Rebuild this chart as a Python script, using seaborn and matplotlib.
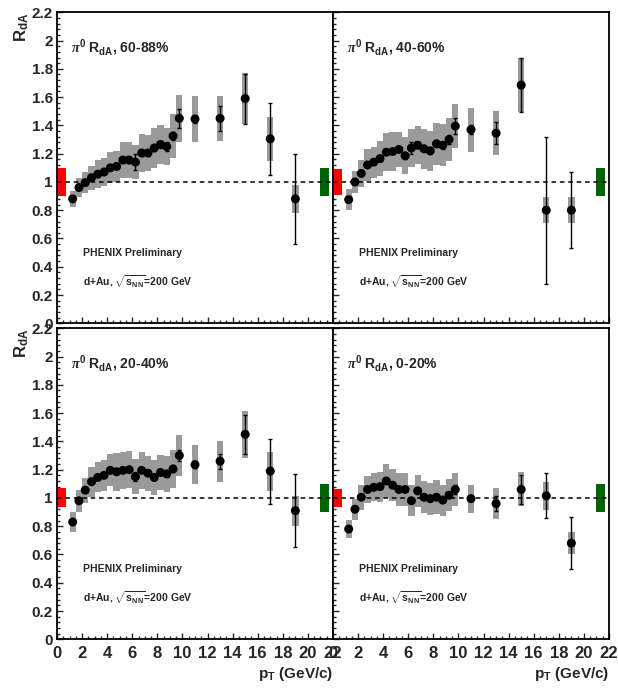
import numpy as np
import pandas as pd
import matplotlib
matplotlib.use("Agg")
import matplotlib.pyplot as plt
from matplotlib import font_manager
from matplotlib.ticker import MultipleLocator
import seaborn as sns

# ---------------- data ----------------
pt = [1.25, 1.75, 2.25, 2.75, 3.25, 3.75, 4.25, 4.75, 5.25, 5.75, 6.25, 6.75,
      7.25, 7.75, 8.25, 8.75, 9.25, 9.75, 11, 13, 15, 17, 19]

labels = ["60-88%", "40-60%", "20-40%", "0-20%"]

val_6088 = [0.88, 0.96, 0.995, 1.03, 1.055, 1.07, 1.10, 1.11, 1.155, 1.155, 1.14, 1.205,
            1.205, 1.24, 1.265, 1.25, 1.325, 1.45, 1.445, 1.45, 1.59, 1.305, 0.88]
stat_6088 = [0.01, 0.01, 0.01, 0.012, 0.012, 0.012, 0.015, 0.015, 0.02, 0.02, 0.055, 0.02,
             0.02, 0.02, 0.025, 0.03, 0.03, 0.067, 0.028, 0.09, 0.177, 0.253, 0.316]
sys_6088 = [0.055, 0.065, 0.075, 0.085, 0.10, 0.10, 0.11, 0.11, 0.125, 0.125, 0.12, 0.135,
            0.13, 0.14, 0.14, 0.13, 0.155, 0.165, 0.163, 0.16, 0.183, 0.155, 0.10]

val_4060 = [0.875, 1.0, 1.06, 1.12, 1.14, 1.165, 1.21, 1.215, 1.23, 1.185, 1.24, 1.26,
            1.235, 1.22, 1.27, 1.26, 1.30, 1.395, 1.37, 1.345, 1.685, 0.80, 0.80]
stat_4060 = [0.01, 0.01, 0.01, 0.012, 0.012, 0.012, 0.015, 0.015, 0.015, 0.02, 0.04, 0.02,
             0.02, 0.02, 0.02, 0.025, 0.035, 0.055, 0.03, 0.08, 0.19, 0.52, 0.27]
sys_4060 = [0.074, 0.08, 0.097, 0.11, 0.11, 0.124, 0.135, 0.135, 0.124, 0.13, 0.136, 0.136,
            0.14, 0.14, 0.15, 0.15, 0.15, 0.157, 0.156, 0.156, 0.19, 0.09, 0.09]

val_2040 = [0.83, 0.98, 1.055, 1.115, 1.145, 1.16, 1.195, 1.185, 1.195, 1.20, 1.15, 1.195,
            1.175, 1.145, 1.18, 1.17, 1.205, 1.30, 1.235, 1.26, 1.45, 1.19, 0.91]
stat_2040 = [0.01, 0.01, 0.01, 0.01, 0.012, 0.012, 0.012, 0.012, 0.012, 0.012, 0.03, 0.012,
             0.015, 0.015, 0.015, 0.02, 0.025, 0.04, 0.025, 0.053, 0.14, 0.23, 0.257]
sys_2040 = [0.07, 0.077, 0.088, 0.106, 0.106, 0.11, 0.114, 0.133, 0.133, 0.133, 0.124, 0.13,
            0.125, 0.125, 0.126, 0.126, 0.135, 0.147, 0.138, 0.144, 0.165, 0.138, 0.106]

val_0020 = [0.78, 0.92, 1.005, 1.06, 1.075, 1.08, 1.12, 1.09, 1.06, 1.06, 0.98, 1.05,
            1.005, 0.995, 1.005, 0.985, 1.02, 1.06, 0.995, 0.96, 1.06, 1.015, 0.68]
stat_0020 = [0.01, 0.01, 0.01, 0.01, 0.01, 0.01, 0.012, 0.012, 0.012, 0.012, 0.015, 0.015,
             0.015, 0.015, 0.015, 0.015, 0.02, 0.03, 0.02, 0.055, 0.10, 0.16, 0.186]
sys_0020 = [0.065, 0.074, 0.088, 0.098, 0.098, 0.107, 0.12, 0.114, 0.119, 0.119, 0.11, 0.114,
            0.114, 0.114, 0.12, 0.11, 0.114, 0.115, 0.10, 0.11, 0.12, 0.10, 0.078]

norm_red = [0.10, 0.09, 0.067, 0.065]   # centrality-dependent normalisation error
norm_green = [0.10, 0.10, 0.10, 0.10]   # global normalisation error

y_ticklabels = ["0", "0.2", "0.4", "0.6", "0.8", "1", "1.2", "1.4", "1.6", "1.8", "2", "2.2"]
x_ticklabels = ["0", "2", "4", "6", "8", "10", "12", "14", "16", "18", "20", "22"]

vals = [val_6088, val_4060, val_2040, val_0020]
stats = [stat_6088, stat_4060, stat_2040, stat_0020]
syss = [sys_6088, sys_4060, sys_2040, sys_0020]

# ---------------- style ----------------
sns.set_style("ticks")
avail = {f.name for f in font_manager.fontManager.ttflist}
narrow = "Liberation Sans Narrow" if "Liberation Sans Narrow" in avail else "Liberation Sans"
plt.rcParams["font.family"] = [narrow, "DejaVu Sans"]
plt.rcParams["font.weight"] = "bold"
plt.rcParams["mathtext.fontset"] = "custom"
plt.rcParams["mathtext.rm"] = narrow + ":bold"
plt.rcParams["mathtext.bf"] = narrow + ":bold"
plt.rcParams["mathtext.it"] = "Liberation Serif:italic"
plt.rcParams["mathtext.default"] = "rm"

fig = plt.figure(figsize=(6.18, 6.91), dpi=100)
W, H = 618.0, 691.0
lefts = [57, 333, 57, 333]
bottoms = [323.3, 323.3, 639.3, 639.3]
aw, ah = 276, 311

gray = "#9a9a9a"
for i in range(4):
    l = lefts[i] / W
    b = (H - bottoms[i]) / H
    ax = fig.add_axes([l, b, aw / W, ah / H])
    ax.set_facecolor("white")
    df = pd.DataFrame({"pt": pt, "val": vals[i], "stat": stats[i], "sys": syss[i]})

    # systematic boxes
    ax.bar(df["pt"], 2 * df["sys"], bottom=df["val"] - df["sys"], width=0.5,
           color=gray, linewidth=0, zorder=2)
    # normalisation boxes
    ax.bar([0.375], [2 * norm_red[i]], bottom=[1 - norm_red[i]], width=0.65,
           color="#ff0000", linewidth=0, zorder=2)
    ax.bar([21.3], [2 * norm_green[i]], bottom=[1 - norm_green[i]], width=0.7,
           color="#006400", linewidth=0, zorder=2)
    # reference line
    ax.axhline(1.0, color="black", lw=1.1, ls=(0, (3, 2.5)), zorder=3)
    # statistical errors
    ax.errorbar(df["pt"], df["val"], yerr=df["stat"], fmt="none", ecolor="black",
                elinewidth=1.0, capsize=1.6, capthick=1.0, zorder=4)
    sns.scatterplot(data=df, x="pt", y="val", ax=ax, color="black", s=42,
                    edgecolor="none", zorder=5, legend=False)

    ax.set_xlim(0, 22)
    ax.set_ylim(0, 2.2)
    ax.set_xlabel("")
    ax.set_ylabel("")
    ax.xaxis.set_major_locator(MultipleLocator(2))
    ax.xaxis.set_minor_locator(MultipleLocator(0.5))
    ax.yaxis.set_major_locator(MultipleLocator(0.2))
    ax.yaxis.set_minor_locator(MultipleLocator(0.04))
    ax.tick_params(which="both", direction="in", top=False, right=False, width=1.0)
    ax.tick_params(which="major", length=4.5)
    ax.tick_params(which="minor", length=2.2)
    ax.tick_params(axis="y", labelsize=11, pad=3)
    ax.tick_params(axis="x", labelsize=12, pad=4.5)
    for s in ax.spines.values():
        s.set_linewidth(1.3)
        s.set_color("black")
        s.set_visible(True)

    if i in (0, 2):
        ax.set_yticks(np.round(np.arange(0, 2.21, 0.2), 2))
        ax.set_yticklabels(y_ticklabels)
        ax.text(-0.127, 1.0, r"R$_{\rm dA}$", transform=ax.transAxes, rotation=90,
                ha="center", va="top", fontsize=12, fontweight="bold")
    else:
        ax.tick_params(axis="y", labelleft=False)
    if i in (2, 3):
        ax.set_xticks(np.arange(0, 23, 2))
        ax.set_xticklabels(x_ticklabels)
        ax.text(1.0, -0.112, r"p$_{\rm T}$ (GeV/c)", transform=ax.transAxes,
                ha="right", va="center", fontsize=11, fontweight="bold")
    else:
        ax.tick_params(axis="x", labelbottom=False)

    ax.text(0.052, 0.886, r"$\mathit{\pi}^{0}$ R$_{\rm dA}$, " + labels[i],
            transform=ax.transAxes, ha="left", va="center", fontsize=10,
            fontweight="bold")
    ax.text(0.094, 0.225, "PHENIX Preliminary", transform=ax.transAxes,
            ha="left", va="center", fontsize=7.5, fontweight="bold")
    ax.text(0.094, 0.134, r"d+Au, $\sqrt{s_{\rm NN}}$=200 GeV", transform=ax.transAxes,
            ha="left", va="center", fontsize=7.5, fontweight="bold")

fig.savefig("out.png", dpi=100, facecolor="white")
